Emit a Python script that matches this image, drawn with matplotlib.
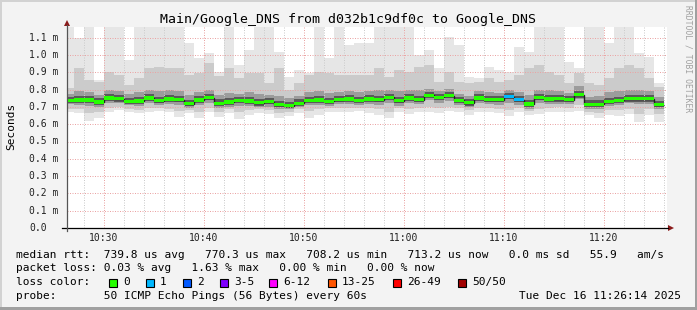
import numpy as np
import matplotlib
matplotlib.use("Agg")
import matplotlib.pyplot as plt
import matplotlib.transforms as mtransforms
from matplotlib.patches import Rectangle, Polygon
from matplotlib.lines import Line2D

W, H = 697, 310
MONO = "DejaVu Sans Mono"

# one sample per minute, start of each step in minutes after 10:00
minutes = np.arange(26, 86)

# median rtt per step (ms)
median = [0.738, 0.740, 0.740, 0.728, 0.751, 0.747, 0.732, 0.734, 0.751, 0.736,
          0.746, 0.742, 0.719, 0.740, 0.753, 0.721, 0.728, 0.738, 0.734, 0.724,
          0.730, 0.713, 0.708, 0.721, 0.738, 0.740, 0.732, 0.742, 0.746, 0.738,
          0.746, 0.742, 0.755, 0.736, 0.751, 0.742, 0.767, 0.755, 0.765, 0.738,
          0.724, 0.751, 0.742, 0.742, 0.759, 0.742, 0.717, 0.753, 0.746, 0.747,
          0.742, 0.770, 0.715, 0.715, 0.732, 0.738, 0.747, 0.747, 0.747, 0.713]

# smoke: slowest / fastest ping and two inner bands
smoke_max = [1.16, 1.10, 1.16, 0.855, 1.16, 1.16, 0.97, 1.16, 1.16, 1.16,
             1.16, 1.16, 1.067, 0.981, 1.010, 0.904, 1.16, 0.942, 1.029, 1.16,
             1.16, 1.019, 0.875, 0.913, 0.894, 1.16, 0.981, 1.16, 1.058, 1.067,
             1.067, 1.16, 1.16, 1.16, 1.16, 1.000, 1.029, 0.923, 1.106, 1.058,
             0.875, 0.865, 0.933, 0.913, 0.904, 1.048, 1.019, 1.16, 1.16, 1.16,
             0.962, 0.923, 1.16, 1.16, 1.067, 1.16, 1.16, 1.010, 0.990, 0.836]
smoke_mhi = [0.807, 0.923, 0.855, 0.846, 0.904, 0.884, 0.827, 0.865, 0.923, 0.933,
             0.923, 0.923, 0.884, 0.894, 0.952, 0.880, 0.923, 0.865, 0.894, 0.894,
             0.836, 0.923, 0.798, 0.836, 0.884, 0.904, 0.894, 0.884, 0.884, 0.884,
             0.884, 0.923, 0.875, 0.913, 0.904, 0.933, 0.942, 0.846, 0.904, 0.846,
             0.836, 0.846, 0.865, 0.846, 0.855, 0.884, 0.923, 0.942, 0.904, 0.884,
             0.836, 0.894, 0.836, 0.827, 0.865, 0.923, 0.942, 0.923, 0.865, 0.817]
smoke_dhi = [0.775, 0.790, 0.785, 0.770, 0.795, 0.790, 0.775, 0.785, 0.800, 0.790,
             0.795, 0.790, 0.770, 0.785, 0.800, 0.770, 0.780, 0.775, 0.785, 0.775,
             0.770, 0.765, 0.750, 0.765, 0.785, 0.790, 0.780, 0.785, 0.790, 0.785,
             0.790, 0.795, 0.800, 0.790, 0.800, 0.795, 0.805, 0.790, 0.805, 0.775,
             0.765, 0.790, 0.785, 0.780, 0.795, 0.785, 0.770, 0.800, 0.795, 0.790,
             0.780, 0.820, 0.760, 0.765, 0.785, 0.790, 0.800, 0.795, 0.790, 0.755]
smoke_dlo = [0.715, 0.712, 0.705, 0.700, 0.720, 0.722, 0.710, 0.705, 0.722, 0.712,
             0.718, 0.712, 0.695, 0.712, 0.722, 0.695, 0.702, 0.705, 0.705, 0.700,
             0.700, 0.688, 0.685, 0.698, 0.710, 0.712, 0.708, 0.715, 0.718, 0.712,
             0.718, 0.712, 0.722, 0.708, 0.720, 0.715, 0.738, 0.725, 0.735, 0.712,
             0.700, 0.722, 0.715, 0.712, 0.722, 0.712, 0.690, 0.722, 0.718, 0.718,
             0.715, 0.745, 0.690, 0.688, 0.705, 0.710, 0.720, 0.715, 0.718, 0.685]
smoke_mlo = [0.690, 0.685, 0.665, 0.672, 0.695, 0.700, 0.690, 0.682, 0.692, 0.693,
             0.690, 0.678, 0.680, 0.670, 0.695, 0.672, 0.685, 0.668, 0.682, 0.685,
             0.680, 0.665, 0.670, 0.685, 0.675, 0.688, 0.692, 0.692, 0.695, 0.695,
             0.692, 0.685, 0.672, 0.695, 0.685, 0.692, 0.700, 0.695, 0.700, 0.692,
             0.680, 0.695, 0.695, 0.690, 0.682, 0.695, 0.675, 0.685, 0.695, 0.698,
             0.695, 0.712, 0.672, 0.665, 0.680, 0.682, 0.690, 0.660, 0.685, 0.660]
smoke_min = [0.669, 0.663, 0.620, 0.634, 0.669, 0.682, 0.673, 0.663, 0.669, 0.676,
             0.669, 0.644, 0.663, 0.634, 0.669, 0.640, 0.663, 0.628, 0.653, 0.663,
             0.657, 0.634, 0.647, 0.663, 0.638, 0.653, 0.673, 0.669, 0.669, 0.676,
             0.663, 0.653, 0.638, 0.669, 0.657, 0.669, 0.673, 0.663, 0.676, 0.669,
             0.653, 0.669, 0.669, 0.663, 0.649, 0.669, 0.653, 0.657, 0.669, 0.673,
             0.669, 0.676, 0.653, 0.638, 0.653, 0.649, 0.657, 0.615, 0.653, 0.615]

# lost pings per step (index into loss_colors)
loss = [0] * 44 + [1, 1] + [0] * 14

tick_minutes = [30, 40, 50, 60, 70, 80]
tick_labels = ["10:30", "10:40", "10:50", "11:00", "11:10", "11:20"]
y_ticks = [0.0, 0.1, 0.2, 0.3, 0.4, 0.5, 0.6, 0.7, 0.8, 0.9, 1.0, 1.1]
y_labels = ["0.0", "0.1 m", "0.2 m", "0.3 m", "0.4 m", "0.5 m", "0.6 m",
            "0.7 m", "0.8 m", "0.9 m", "1.0 m", "1.1 m"]

loss_names = ["0", "1", "2", "3-5", "6-12", "13-25", "26-49", "50/50"]
loss_colors = ["#26ff00", "#00b8ff", "#0059ff", "#7e00ff",
               "#ff00ff", "#ff5500", "#ff0000", "#a10000"]

legend_lines = [
    "median rtt:  739.8 us avg   770.3 us max   708.2 us min   713.2 us now   0.0 ms sd   55.9   am/s",
    "packet loss: 0.03 % avg   1.63 % max   0.00 % min   0.00 % now",
    "loss color:",
    "probe:       50 ICMP Echo Pings (56 Bytes) every 60s",
]
stamp = "Tue Dec 16 11:26:14 2025"


def fx(x):
    return x / W


def fy(y):
    return 1 - y / H


fig = plt.figure(figsize=(W / 100, H / 100), dpi=100, facecolor="#f3f3f3")

# frame of the image
fig.add_artist(Rectangle((0, fy(2)), 1, 2 / H, transform=fig.transFigure, color="#d2d2d2", lw=0))
fig.add_artist(Rectangle((0, 0), fx(2), 1, transform=fig.transFigure, color="#d2d2d2", lw=0))
fig.add_artist(Rectangle((0, 0), 1, 3 / H, transform=fig.transFigure, color="#a0a0a0", lw=0))
fig.add_artist(Rectangle((fx(695), 0), 2 / W, 1, transform=fig.transFigure, color="#a0a0a0", lw=0))

ax = fig.add_axes([fx(67), fy(228), 600 / W, 201 / H])
ax.set_xlim(26.3, 86.3)
ax.set_ylim(0, 201 / 173)
ax.set_facecolor("white")
for s in ax.spines.values():
    s.set_visible(False)
ax.set_xticks([])
ax.set_yticks([])

edges = np.append(minutes, minutes[-1] + 1)
med = np.array(median)
ax.stairs(smoke_max, edges, baseline=smoke_min, fill=True, color="#e6e6e6", lw=0, zorder=1)
ax.stairs(smoke_mhi, edges, baseline=smoke_mlo, fill=True, color="#cbcbcb", lw=0, zorder=1.1)
ax.stairs(smoke_dhi, edges, baseline=smoke_dlo, fill=True, color="#9c9c9c", lw=0, zorder=1.2)
# darkest core right around the median
ax.stairs(med + 0.022, edges, baseline=med - 0.016, fill=True, color="#5a5a5a", lw=0, zorder=1.3)

# grid
dot = (0, (1, 1.5))
for m in range(28, 87, 2):
    c = "#eaa4a4" if m % 10 == 0 else "#cccccc"
    ax.axvline(m, color=c, lw=0.72, ls=dot, zorder=2)
for v in y_ticks[1:]:
    ax.axhline(v, color="#eaa4a4", lw=0.72, ls=dot, zorder=2)

# median line, coloured by loss
hw = 1.6 / 173
ax.stairs(median, edges, baseline=None, color="#202020", lw=1.0, zorder=3)
ax.bar(minutes, 2 * hw, bottom=med - hw, width=1, align="edge",
       color=[loss_colors[l] for l in loss], lw=0, zorder=4)

# axes lines and arrows
fig.add_artist(Line2D([fx(62), fx(668)], [fy(228), fy(228)], transform=fig.transFigure,
                      color="black", lw=0.9))
fig.add_artist(Line2D([fx(67), fx(67)], [fy(231), fy(25)], transform=fig.transFigure,
                      color="#555555", lw=0.9))
fig.add_artist(Polygon([(fx(64), fy(26)), (fx(70), fy(26)), (fx(67), fy(20))],
                       closed=True, transform=fig.transFigure, color="#8b1a1a", lw=0))
fig.add_artist(Polygon([(fx(668), fy(225)), (fx(668), fy(231)), (fx(674), fy(228))],
                       closed=True, transform=fig.transFigure, color="#8b1a1a", lw=0))

# tick labels
ytrans = mtransforms.blended_transform_factory(fig.transFigure, ax.transData)
for v, lab in zip(y_ticks, y_labels):
    ax.text(fx(29), v, lab, transform=ytrans, ha="left", va="center",
            family=MONO, fontsize=7, color="#222222")
xtrans = mtransforms.blended_transform_factory(ax.transData, fig.transFigure)
for m, lab in zip(tick_minutes, tick_labels):
    ax.text(m, fy(238), lab, transform=xtrans, ha="center", va="center",
            family=MONO, fontsize=7, color="#222222")

# title, axis label, watermark
fig.text(fx(347.5), fy(19), "Main/Google_DNS from d032b1c9df0c to Google_DNS",
         ha="center", va="center", family=MONO, fontsize=9.5)
fig.text(fx(11), fy(126), "Seconds", rotation=90, ha="center", va="center",
         family=MONO, fontsize=8)
fig.text(fx(688), fy(59), "RRDTOOL / TOBI OETIKER", rotation=-90, ha="center",
         va="center", family=MONO, fontsize=5.8, color="#a0a0a0")

# legend
for y, line in zip([255, 268, 282, 296], legend_lines):
    fig.text(fx(16), fy(y), line, ha="left", va="center", family=MONO, fontsize=8.05)

sq_x = [108.7, 145.7, 182.5, 219.5, 269, 327.5, 392.5, 457.5]
for x, name, c in zip(sq_x, loss_names, loss_colors):
    fig.add_artist(Rectangle((fx(x), fy(286.5)), 8 / W, 8 / H, transform=fig.transFigure,
                             facecolor=c, edgecolor="black", lw=0.8))
    fig.text(fx(x + 14.5), fy(282), name, ha="left", va="center", family=MONO, fontsize=8.05)

fig.text(fx(681), fy(296), stamp, ha="right", va="center", family=MONO, fontsize=8.05)

fig.savefig("out.png", dpi=100, facecolor=fig.get_facecolor())
